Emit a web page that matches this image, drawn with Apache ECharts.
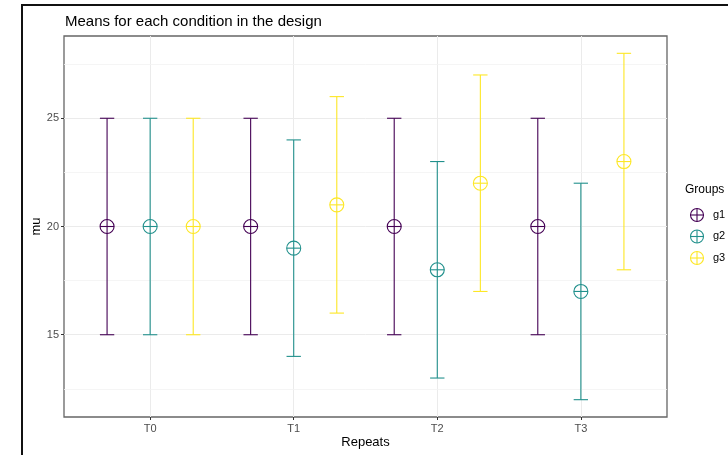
<!DOCTYPE html>
<html>
<head>
<meta charset="utf-8">
<script src="https://cdn.jsdelivr.net/npm/echarts@6/dist/echarts.min.js"></script>
<style>
  html, body { margin: 0; padding: 0; background: #fff; }
  #chart { width: 728px; height: 455px; }
</style>
</head>
<body>
<div id="chart"></div>
<script>
// Repeated-measures design: mean and interval per group at each time point
const categories = ['T0', 'T1', 'T2', 'T3'];
const groups = ['g1', 'g2', 'g3'];
const groupColors = ['#440154', '#21908C', '#FDE725'];

const g1Mean  = [20, 20, 20, 20];
const g1Lower = [15, 15, 15, 15];
const g1Upper = [25, 25, 25, 25];

const g2Mean  = [20, 19, 18, 17];
const g2Lower = [15, 14, 13, 12];
const g2Upper = [25, 24, 23, 22];

const g3Mean  = [20, 21, 22, 23];
const g3Lower = [15, 16, 17, 18];
const g3Upper = [25, 26, 27, 28];

const yMajor = [15, 20, 25];
const yMinor = [12.5, 17.5, 22.5, 27.5];

const means  = [g1Mean, g2Mean, g3Mean];
const lowers = [g1Lower, g2Lower, g3Lower];
const uppers = [g1Upper, g2Upper, g3Upper];

const dodge = 0.3;      // horizontal shift between groups (axis units)
const capHalf = 0.05;   // half width of error bar caps (axis units)
const catPos = categories.map((c, i) => i + 1);

const chart = echarts.init(document.getElementById('chart'), null, { renderer: 'canvas' });

function makeSeries(gi) {
  const data = categories.map((c, i) => [catPos[i] + (gi - 1) * dodge, means[gi][i], lowers[gi][i], uppers[gi][i]]);
  const color = groupColors[gi];
  return {
    type: 'custom',
    name: groups[gi],
    data: data,
    z: 10,
    renderItem: function (params, api) {
      const x = api.value(0);
      const top = api.coord([x, api.value(3)]);
      const bot = api.coord([x, api.value(2)]);
      const capL = api.coord([x - capHalf, api.value(3)]);
      const capR = api.coord([x + capHalf, api.value(3)]);
      const mid = api.coord([x, api.value(1)]);
      const half = (capR[0] - capL[0]) / 2;
      const r = 7;
      const ls = { stroke: color, lineWidth: 1.1, fill: null };
      return {
        type: 'group',
        children: [
          { type: 'line', shape: { x1: top[0], y1: top[1], x2: bot[0], y2: bot[1] }, style: ls },
          { type: 'line', shape: { x1: top[0] - half, y1: top[1], x2: top[0] + half, y2: top[1] }, style: ls },
          { type: 'line', shape: { x1: bot[0] - half, y1: bot[1], x2: bot[0] + half, y2: bot[1] }, style: ls },
          { type: 'circle', shape: { cx: mid[0], cy: mid[1], r: r }, style: { stroke: color, lineWidth: 1.1, fill: 'none' } },
          { type: 'line', shape: { x1: mid[0] - r, y1: mid[1], x2: mid[0] + r, y2: mid[1] }, style: ls }
        ]
      };
    }
  };
}

// Minor horizontal grid lines
const minorSeries = {
  type: 'line',
  data: [],
  silent: true,
  z: 1,
  markLine: {
    silent: true,
    symbol: ['none', 'none'],
    label: { show: false },
    lineStyle: { color: '#f2f2f2', width: 0.8, type: 'solid' },
    data: yMinor.map(v => ({ yAxis: v }))
  }
};

// Legend drawn as graphics: circle-plus key glyphs
const legendGraphics = [
  { type: 'text', left: 685, top: 184, style: { text: 'Groups', font: '12px "Liberation Sans", Arial, sans-serif', fill: '#000' } }
];
groups.forEach((g, i) => {
  const cy = 215 + i * 21.5;
  legendGraphics.push({
    type: 'group',
    children: [
      { type: 'circle', shape: { cx: 697, cy: cy, r: 6.5 }, style: { stroke: groupColors[i], lineWidth: 1.1, fill: 'none' } },
      { type: 'line', shape: { x1: 690.5, y1: cy, x2: 703.5, y2: cy }, style: { stroke: groupColors[i], lineWidth: 1.1 } },
      { type: 'line', shape: { x1: 697, y1: cy - 6.5, x2: 697, y2: cy + 6.5 }, style: { stroke: groupColors[i], lineWidth: 1.1 } },
      { type: 'text', x: 713, y: cy - 6, style: { text: g, font: '11px "Liberation Sans", Arial, sans-serif', fill: '#000' } }
    ]
  });
});
// Outer frame
legendGraphics.push(
  { type: 'line', shape: { x1: 21, y1: 5, x2: 728, y2: 5 }, style: { stroke: '#111', lineWidth: 2 } },
  { type: 'line', shape: { x1: 22, y1: 5, x2: 22, y2: 455 }, style: { stroke: '#111', lineWidth: 2 } }
);

const option = {
  backgroundColor: '#ffffff',
  animation: false,
  textStyle: { fontFamily: '"Liberation Sans", Arial, sans-serif' },
  title: {
    text: 'Means for each condition in the design',
    left: 60,
    top: 9,
    textStyle: { fontSize: 15, fontWeight: 'normal', color: '#000' }
  },
  grid: {
    left: 64, top: 36, right: 61, bottom: 38,
    outerBoundsMode: 'none',
    containLabel: false,
    show: true,
    backgroundColor: '#fff',
    borderColor: '#666',
    borderWidth: 1.3
  },
  xAxis: {
    type: 'value',
    min: 0.4,
    max: 4.6,
    name: 'Repeats',
    nameLocation: 'middle',
    nameGap: 19,
    nameMoveOverlap: false,
    nameTextStyle: { fontSize: 13, color: '#000' },
    axisLine: { show: false },
    axisTick: { show: true, length: 3, customValues: catPos, lineStyle: { color: '#333' } },
    axisLabel: {
      customValues: catPos,
      formatter: v => categories[Math.round(v) - 1] || '',
      color: '#4d4d4d', fontSize: 11, margin: 6
    },
    splitLine: { show: true, lineStyle: { color: '#ebebeb', width: 1 } }
  },
  yAxis: {
    type: 'value',
    min: 11.2,
    max: 28.8,
    name: 'mu',
    nameLocation: 'middle',
    nameGap: 21,
    nameMoveOverlap: false,
    nameRotate: 90,
    nameTextStyle: { fontSize: 13, color: '#000' },
    axisLine: { show: false },
    axisTick: { show: true, length: 3, customValues: yMajor, lineStyle: { color: '#333' } },
    axisLabel: { customValues: yMajor, color: '#4d4d4d', fontSize: 11, margin: 5 },
    splitLine: { show: true, lineStyle: { color: '#ebebeb', width: 1 } }
  },
  series: [minorSeries, makeSeries(0), makeSeries(1), makeSeries(2)],
  graphic: legendGraphics
};

chart.setOption(option);
</script>
</body>
</html>
